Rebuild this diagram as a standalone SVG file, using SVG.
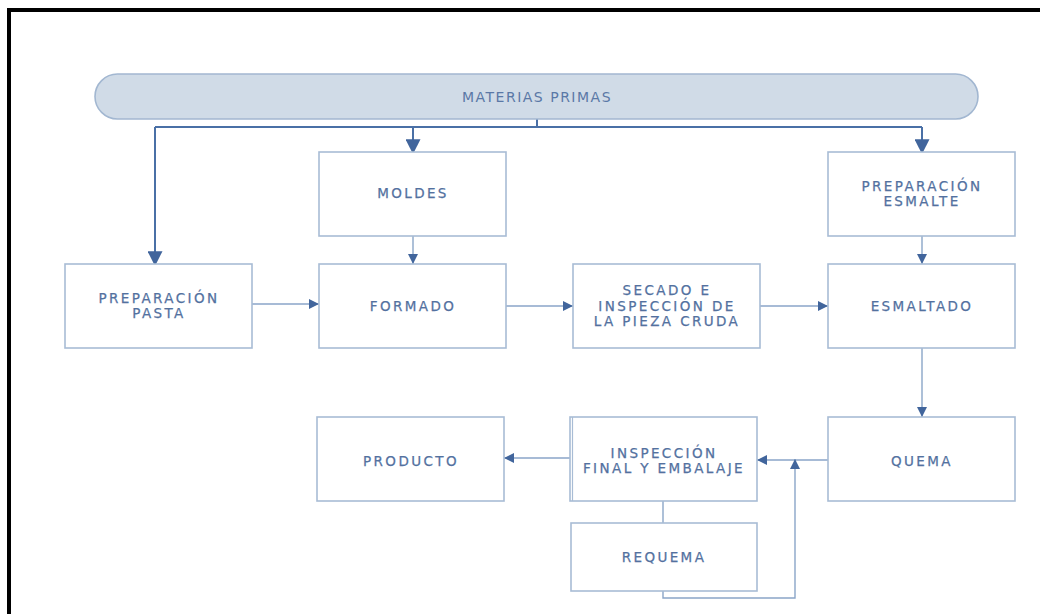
<svg xmlns="http://www.w3.org/2000/svg" width="1040" height="614" viewBox="0 0 1040 614">
<defs>
<style>
.box{fill:#fff;stroke:#a8bcd5;stroke-width:1.6}
.t{font-family:"DejaVu Sans",Verdana,sans-serif;font-size:13.5px;fill:#53719f;stroke:#53719f;stroke-width:0.25;text-anchor:middle;letter-spacing:2.4px}
.tp{font-family:"DejaVu Sans",Verdana,sans-serif;font-size:14px;fill:#5a78a6;text-anchor:middle;letter-spacing:1.5px}
.c1{fill:none;stroke:#4a70a6;stroke-width:2}
.c2{fill:none;stroke:#8aa5c8;stroke-width:1.4}
</style>
<marker id="big" viewBox="0 0 12 14" refX="12" refY="7" markerWidth="15" markerHeight="15" markerUnits="userSpaceOnUse" orient="auto"><path d="M0,0 L14,7 L0,14 z" fill="#41659c"/></marker>
<marker id="sm" viewBox="0 0 10 10" refX="10" refY="5" markerWidth="10" markerHeight="10" markerUnits="userSpaceOnUse" orient="auto"><path d="M0,0 L10,5 L0,10 z" fill="#41659c"/></marker>
</defs>
<rect x="0" y="0" width="1040" height="614" fill="#fff"/>
<path d="M9,614 V10 H1040" fill="none" stroke="#000" stroke-width="4"/>
<g id="connectors">
<path class="c1" d="M537,119 V127 M155,127 H922"/>
<path class="c1" d="M155,127 V264" marker-end="url(#big)"/>
<path class="c1" d="M413,127 V152" marker-end="url(#big)"/>
<path class="c1" d="M922,127 V152" marker-end="url(#big)"/>
<path class="c2" d="M413,236 V264" marker-end="url(#sm)"/>
<path class="c2" d="M922,236 V264" marker-end="url(#sm)"/>
<path class="c2" d="M252,304 H319" marker-end="url(#sm)"/>
<path class="c2" d="M506,306 H573" marker-end="url(#sm)"/>
<path class="c2" d="M760,306 H828" marker-end="url(#sm)"/>
<path class="c2" d="M922,348 V417" marker-end="url(#sm)"/>
<path class="c2" d="M828,460 H757" marker-end="url(#sm)"/>
<path class="c2" d="M570,458 H504" marker-end="url(#sm)"/>
<path class="c2" d="M663,501 V523"/>
<path class="c2" d="M663,591 V598 H795 V459" marker-end="url(#sm)"/>
</g>
<g id="materias-primas">
<rect x="95" y="74" width="883" height="45" rx="22.5" fill="#d0dbe7" stroke="#a2b7d1" stroke-width="1.6"/>
<text class="tp" x="537" y="102">MATERIAS PRIMAS</text>
</g>
<g id="moldes"><rect class="box" x="319" y="152" width="187" height="84"/><text class="t" x="413" y="198">MOLDES</text></g>
<g id="preparacion-esmalte"><rect class="box" x="828" y="152" width="187" height="84"/><text class="t" x="922" y="191">PREPARACIÓN</text><text class="t" x="922" y="206">ESMALTE</text></g>
<g id="preparacion-pasta"><rect class="box" x="65" y="264" width="187" height="84"/><text class="t" x="159" y="303">PREPARACIÓN</text><text class="t" x="159" y="318">PASTA</text></g>
<g id="formado"><rect class="box" x="319" y="264" width="187" height="84"/><text class="t" x="413" y="311">FORMADO</text></g>
<g id="secado"><rect class="box" x="573" y="264" width="187" height="84"/><text class="t" x="667" y="295">SECADO E</text><text class="t" x="667" y="311">INSPECCIÓN DE</text><text class="t" x="667" y="326">LA PIEZA CRUDA</text></g>
<g id="esmaltado"><rect class="box" x="828" y="264" width="187" height="84"/><text class="t" x="922" y="311">ESMALTADO</text></g>
<g id="producto"><rect class="box" x="317" y="417" width="187" height="84"/><text class="t" x="411" y="466">PRODUCTO</text></g>
<g id="inspeccion-final"><rect class="box" x="570" y="417" width="187" height="84"/><path d="M572.5,417 V501" stroke="#a8bcd5" stroke-width="1.2"/><text class="t" x="664" y="458">INSPECCIÓN</text><text class="t" x="664" y="473">FINAL Y EMBALAJE</text></g>
<g id="quema"><rect class="box" x="828" y="417" width="187" height="84"/><text class="t" x="922" y="466">QUEMA</text></g>
<g id="requema"><rect class="box" x="571" y="523" width="186" height="68"/><text class="t" x="664" y="562">REQUEMA</text></g>
</svg>
